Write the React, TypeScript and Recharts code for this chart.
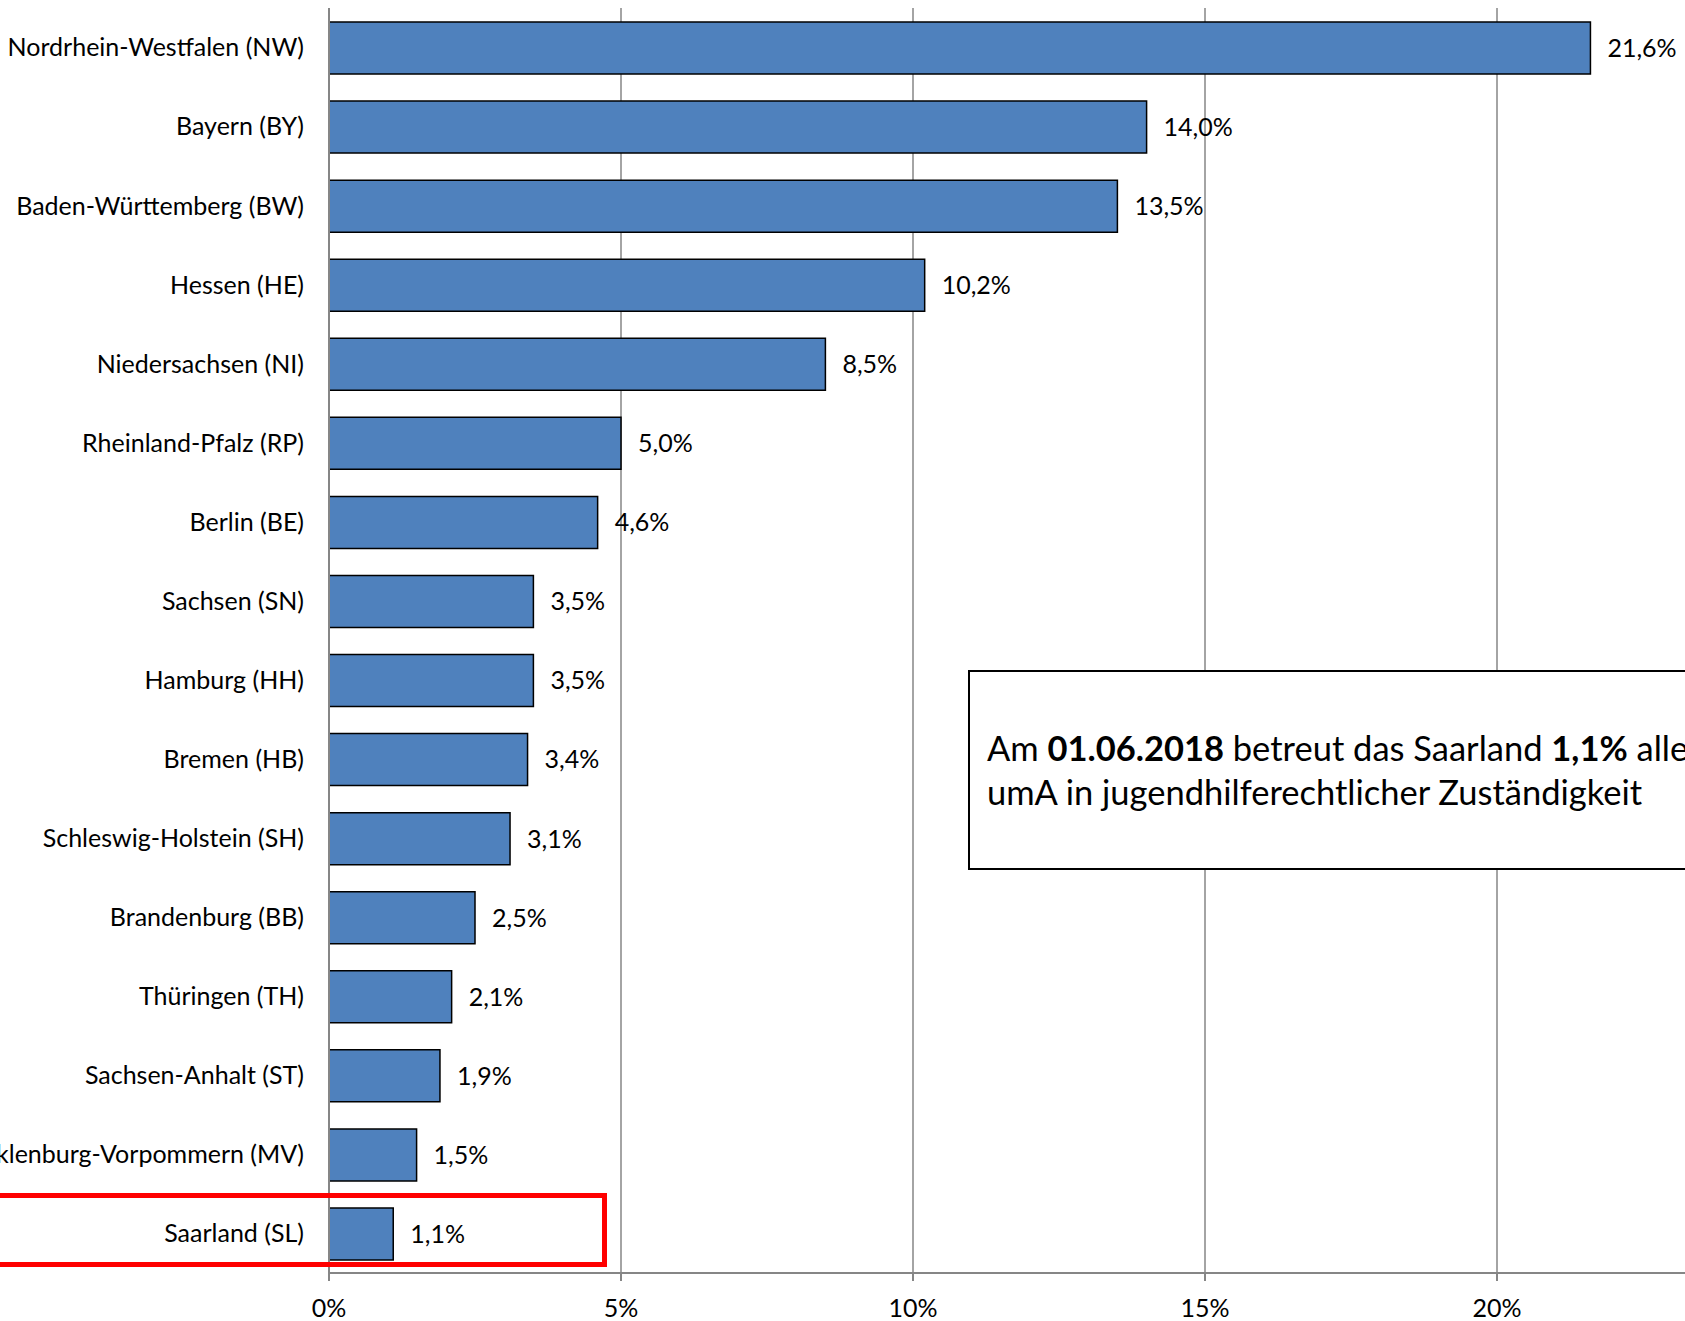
import React from 'react';
import { BarChart, Bar, XAxis, YAxis, CartesianGrid, LabelList } from 'recharts';

// Anteil der umA je Bundesland (01.06.2018)
const states = [
  'Nordrhein-Westfalen (NW)',
  'Bayern (BY)',
  'Baden-Württemberg (BW)',
  'Hessen (HE)',
  'Niedersachsen (NI)',
  'Rheinland-Pfalz (RP)',
  'Berlin (BE)',
  'Sachsen (SN)',
  'Hamburg (HH)',
  'Bremen (HB)',
  'Schleswig-Holstein (SH)',
  'Brandenburg (BB)',
  'Thüringen (TH)',
  'Sachsen-Anhalt (ST)',
  'Mecklenburg-Vorpommern (MV)',
  'Saarland (SL)',
];

const shares = [21.6, 14.0, 13.5, 10.2, 8.5, 5.0, 4.6, 3.5, 3.5, 3.4, 3.1, 2.5, 2.1, 1.9, 1.5, 1.1];

// the 25% tick lies outside the visible crop
const xTicks = [0, 5, 10, 15, 20];

// tick marks between the categories
const boundaryTicks = [0, 1, 2, 3, 4, 5, 6, 7, 8, 9, 10, 11, 12, 13, 14, 15, 16];

const data = states.map((name, i) => ({ name, share: shares[i] }));

const FONT = 'Lato, "Open Sans", sans-serif';
const GRID = '#868686';
const FS = 25;

const formatPct = (v: number) => v.toFixed(1).replace('.', ',') + '%';

const App: React.FC = () => {
  return (
    <div
      style={{
        position: 'absolute',
        left: 0,
        top: 0,
        width: 1685,
        height: 1321,
        overflow: 'hidden',
        background: '#fff',
        fontFamily: FONT,
      }}
    >
      <BarChart
        width={1850}
        height={1321}
        data={data}
        layout="vertical"
        margin={{ top: 8, right: 61, bottom: 0, left: 0 }}
      >
        <CartesianGrid
          horizontal={false}
          stroke={GRID}
          strokeWidth={1.5}
          yAxisId="cat"
        />
        <XAxis
          type="number"
          domain={[0, 25]}
          ticks={xTicks}
          interval={0}
          height={48}
          tickFormatter={(v) => v + '%'}
          axisLine={{ stroke: GRID, strokeWidth: 2 }}
          tickLine={{ stroke: GRID, strokeWidth: 2 }}
          tickSize={8}
          tickMargin={18}
          tick={{ fill: '#000', fontSize: FS, fontFamily: FONT }}
        />
        <YAxis
          yAxisId="bounds"
          type="number"
          domain={[0, 16]}
          ticks={boundaryTicks}
          interval={0}
          allowDataOverflow
          width={0}
          axisLine={false}
          tickSize={9}
          tickLine={{ stroke: GRID, strokeWidth: 2 }}
          tickFormatter={() => ''}
        />
        <YAxis
          yAxisId="cat"
          type="category"
          dataKey="name"
          width={329}
          interval={0}
          axisLine={{ stroke: GRID, strokeWidth: 2 }}
          tickLine={false}
          tickSize={8}
          tickMargin={17}
          tick={{ fill: '#000', fontSize: FS, fontFamily: FONT }}
        />
        <Bar
          yAxisId="cat"
          dataKey="share"
          fill="#4F81BD"
          stroke="#000"
          strokeWidth={1.5}
          barSize={52}
          isAnimationActive={false}
        >
          <LabelList
            dataKey="share"
            position="right"
            offset={17}
            formatter={(v: any) => formatPct(Number(v))}
            fill="#000"
            fontSize={FS}
            fontFamily={FONT}
          />
        </Bar>
      </BarChart>

      {/* annotation box, cut off at the right edge like the original */}
      <div
        style={{
          position: 'absolute',
          left: 968,
          top: 670,
          width: 820,
          height: 200,
          boxSizing: 'border-box',
          border: '2px solid #000',
          background: '#fff',
          display: 'flex',
          alignItems: 'center',
          paddingLeft: 17,
          fontSize: 34.5,
          lineHeight: '44px',
          whiteSpace: 'nowrap',
          color: '#000',
        }}
      >
        <div>
          Am <b>01.06.2018</b> betreut das Saarland <b>1,1%</b> aller
          <br />
          umA in jugendhilferechtlicher Zuständigkeit
        </div>
      </div>

      {/* red frame around Saarland */}
      <div
        style={{
          position: 'absolute',
          left: -10,
          top: 1193,
          width: 617,
          height: 74,
          boxSizing: 'border-box',
          border: '5px solid #ff0000',
        }}
      />
    </div>
  );
};

export default App;
